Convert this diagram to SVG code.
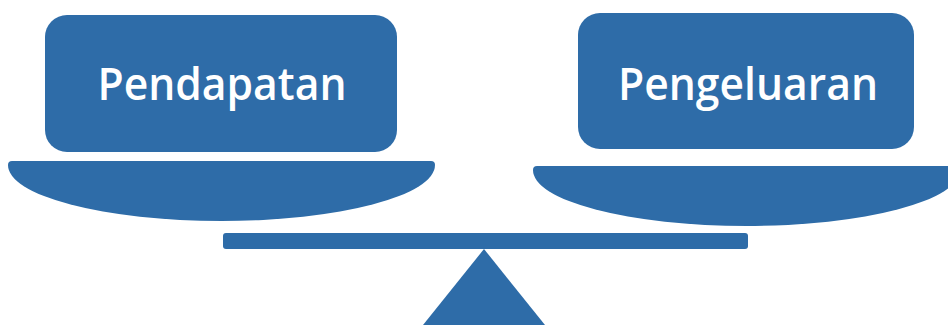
<svg xmlns="http://www.w3.org/2000/svg" width="948" height="325" viewBox="0 0 948 325">
<style>
.s{fill:#2E6CA8}
.t{fill:#fff;font-family:"Open Sans",sans-serif;font-weight:600;font-size:45px;text-anchor:middle}
</style>
<rect width="948" height="325" fill="#fff"/>
<g id="pendapatan">
<rect class="s" x="45" y="15" width="352" height="137" rx="22"/>
<text class="t" x="222" y="100" textLength="249" lengthAdjust="spacingAndGlyphs">Pendapatan</text>
</g>
<g id="pengeluaran">
<rect class="s" x="578" y="13" width="336" height="136" rx="22"/>
<text class="t" x="748" y="100" textLength="260" lengthAdjust="spacingAndGlyphs">Pengeluaran</text>
</g>
<g id="left-pan">
<path class="s" d="M8,165 Q8,161 12,161 L431,161 Q435,161 435,165 A213.5,56 0 0 1 8,165 Z"/>
</g>
<g id="right-pan">
<path class="s" d="M533,170 Q533,166 537,166 L956,166 Q960,166 960,170 A213.5,56 0 0 1 533,170 Z"/>
</g>
<g id="beam">
<rect class="s" x="223" y="233" width="525" height="16" rx="3"/>
</g>
<g id="fulcrum">
<polygon class="s" points="484,249 545,325 423,325"/>
</g>
<g id="connectors"/>
</svg>
